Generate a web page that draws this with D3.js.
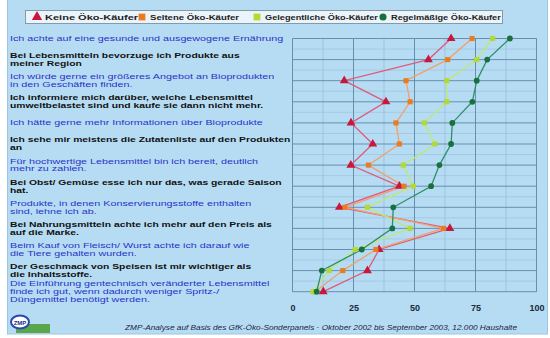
<!DOCTYPE html>
<html>
<head>
<meta charset="utf-8">
<script src="https://cdn.jsdelivr.net/npm/d3@7/dist/d3.min.js"></script>
<style>
  html, body { margin: 0; padding: 0; background: #ffffff; }
  svg { display: block; }
  text { font-family: "Liberation Sans", Arial, sans-serif; }
</style>
</head>
<body>
<svg id="chart" width="550" height="338"></svg>
<script>
// Statements (one per row, top to bottom); "\n" marks line breaks
const statements = [
  "Ich achte auf eine gesunde und ausgewogene Ernährung",
  "Bei Lebensmitteln bevorzuge ich Produkte aus\nmeiner Region",
  "Ich würde gerne ein größeres Angebot an Bioprodukten\nin den Geschäften finden.",
  "Ich informiere mich darüber, welche Lebensmittel\numweltbelastet sind und kaufe sie dann nicht mehr.",
  "Ich hätte gerne mehr Informationen über Bioprodukte",
  "Ich sehe mir meistens die Zutatenliste auf den Produkten\nan",
  "Für hochwertige Lebensmittel bin ich bereit, deutlich\nmehr zu zahlen.",
  "Bei Obst/ Gemüse esse ich nur das, was gerade Saison\nhat.",
  "Produkte, in denen Konservierungsstoffe enthalten\nsind, lehne ich ab.",
  "Bei Nahrungsmitteln achte ich mehr auf den Preis als\nauf die Marke.",
  "Beim Kauf von Fleisch/ Wurst achte ich darauf wie\ndie Tiere gehalten wurden.",
  "Der Geschmack von Speisen ist mir wichtiger als\ndie Inhaltsstoffe.",
  "Die Einführung gentechnisch veränderter Lebensmittel\nfinde ich gut, wenn dadurch weniger Spritz-/\nDüngemittel benötigt werden."
];

// Zustimmung in % je Käufergruppe
const keineOeko      = [65.0, 55.7, 21.2, 38.3, 24.0, 32.9, 23.9, 43.8, 19.2, 64.5, 35.5, 30.7, 12.6];
const selteneOeko    = [73.6, 63.6, 46.5, 48.2, 42.4, 43.8, 31.1, 45.7, 21.5, 61.8, 34.2, 20.6,  9.2];
const gelegentOeko   = [82.0, 75.5, 63.2, 63.2, 54.0, 58.4, 45.4, 49.5, 30.7, 48.2, 25.6, 15.0,  8.4];
const regelmOeko     = [89.1, 79.8, 75.5, 73.7, 65.5, 65.0, 60.2, 56.8, 41.3, 40.9, 28.4, 12.0,  9.9];

const seriesNames = ["Keine Öko-Käufer", "Seltene Öko-Käufer", "Gelegentliche Öko-Käufer", "Regelmäßige Öko-Käufer"];
const xTicks = [0, 25, 50, 75, 100];
const footnote = "ZMP-Analyse auf Basis des GfK-Öko-Sonderpanels · Oktober 2002 bis September 2003, 12.000 Haushalte";

const series = [
  { name: seriesNames[0], values: keineOeko,    line: "#e05a7c", fill: "#c8163c", shape: d3.symbolTriangle },
  { name: seriesNames[1], values: selteneOeko,  line: "#f2a06c", fill: "#ee7a1e", shape: d3.symbolSquare },
  { name: seriesNames[2], values: gelegentOeko, line: "#bdea72", fill: "#b4d834", shape: d3.symbolSquare },
  { name: seriesNames[3], values: regelmOeko,   line: "#2f8e66", fill: "#17703e", shape: d3.symbolCircle }
];

const svg = d3.select("#chart");

// panel background
svg.append("rect").attr("x", 7.5).attr("y", -1).attr("width", 540).attr("height", 335)
  .attr("fill", "#b6dcf4").attr("stroke", "#9cc6e4");

// scales
const x = d3.scaleLinear().domain([0, 100]).range([292.5, 536.5]);
const y = d3.scalePoint().domain(d3.range(statements.length)).range([38.5, 291.7]);

// grid
const grid = svg.append("g");
const minor = d3.range(0, 100.01, 12.5);
grid.selectAll("line.vmin").data(minor).join("line")
  .attr("x1", d => x(d)).attr("x2", d => x(d))
  .attr("y1", y(0)).attr("y2", y(statements.length - 1))
  .attr("stroke", "#8fb6d2").attr("stroke-width", 0.6);
const step = y.step();
grid.selectAll("line.hmin").data(d3.range(statements.length - 1)).join("line")
  .attr("x1", x(0)).attr("x2", x(100))
  .attr("y1", d => y(d) + step / 2).attr("y2", d => y(d) + step / 2)
  .attr("stroke", "#98bdd8").attr("stroke-width", 0.6);
grid.selectAll("line.vmaj").data(xTicks).join("line")
  .attr("x1", d => x(d)).attr("x2", d => x(d))
  .attr("y1", y(0)).attr("y2", y(statements.length - 1))
  .attr("stroke", "#5f8aa6").attr("stroke-width", 0.9);
grid.selectAll("line.hmaj").data(d3.range(statements.length)).join("line")
  .attr("x1", x(0)).attr("x2", x(100))
  .attr("y1", d => y(d)).attr("y2", d => y(d))
  .attr("stroke", "#5f86a6").attr("stroke-width", 0.9);

// x axis tick labels
const xAxis = d3.axisBottom(x).tickValues(xTicks).tickSize(0).tickPadding(0);
const ax = svg.append("g").attr("transform", `translate(0,${y(statements.length - 1) + 13})`).call(xAxis);
ax.select(".domain").remove();
ax.selectAll("text").attr("font-size", 9).attr("font-weight", "bold").attr("fill", "#1a2a3a");

// statement labels (wide, compact type)
const labels = svg.append("g");
const lh = 7.9;
statements.forEach((s, i) => {
  const lines = s.split("\n");
  const y0 = y(i) - (lines.length - 1) * lh / 2 + 2.4;
  const blue = i % 2 === 0;
  lines.forEach((ln, k) => {
    labels.append("text")
      .attr("transform", `translate(10,${y0 + k * lh}) scale(${blue ? 1.56 : 1.5},1)`)
      .attr("font-size", 6.9)
      .attr("font-weight", blue ? "normal" : "bold")
      .attr("fill", blue ? "#2a32c8" : "#111111")
      .text(ln);
  });
});

// lines and markers
const lineGen = d3.line().x(d => x(d.v)).y(d => y(d.i));
series.forEach(s => {
  const pts = s.values.map((v, i) => ({ v, i }));
  svg.append("path").datum(pts).attr("d", lineGen)
    .attr("fill", "none").attr("stroke", s.line).attr("stroke-width", 1.3);
});
series.forEach(s => {
  const pts = s.values.map((v, i) => ({ v, i }));
  const sym = d3.symbol().type(s.shape).size(s.shape === d3.symbolTriangle ? 34 : 26);
  svg.append("g").selectAll("path").data(pts).join("path")
    .attr("d", sym)
    .attr("transform", d => `translate(${x(d.v)},${y(d.i)})`)
    .attr("fill", s.fill);
});

// legend
const lg = svg.append("g");
lg.append("rect").attr("x", 25.5).attr("y", 10.5).attr("width", 477).attr("height", 13)
  .attr("fill", "#eaf4fb").attr("stroke", "#8a98a6");
const legendX = [37, 142, 257, 383];
const legendScale = [1.38, 1.2, 1.15, 1.15];
series.forEach((s, i) => {
  const sym = d3.symbol().type(s.shape).size(s.shape === d3.symbolCircle ? 40 : 46);
  lg.append("path").attr("d", sym).attr("transform", `translate(${legendX[i]},17)`).attr("fill", s.fill);
  lg.append("text").attr("transform", `translate(${legendX[i] + 8},20) scale(${legendScale[i]},1)`)
    .attr("font-size", 8).attr("font-weight", "bold").attr("fill", "#222")
    .text(s.name);
});

// footnote
svg.append("text").attr("x", 125).attr("y", 329.5)
  .attr("textLength", 392).attr("lengthAdjust", "spacingAndGlyphs")
  .attr("font-size", 7).attr("font-style", "italic").attr("fill", "#1a2440")
  .text(footnote);

// ZMP logo
const logo = svg.append("g");
logo.append("rect").attr("x", 16).attr("y", 324).attr("width", 34).attr("height", 9).attr("fill", "#5aa64a");
logo.append("ellipse").attr("cx", 20).attr("cy", 322).attr("rx", 9).attr("ry", 6.5)
  .attr("fill", "#ffffff").attr("stroke", "#2a48b0").attr("stroke-width", 2);
logo.append("text").attr("x", 20).attr("y", 324.5).attr("text-anchor", "middle")
  .attr("font-size", 6).attr("font-weight", "bold").attr("fill", "#1a2a90").text("ZMP");
</script>
</body>
</html>
